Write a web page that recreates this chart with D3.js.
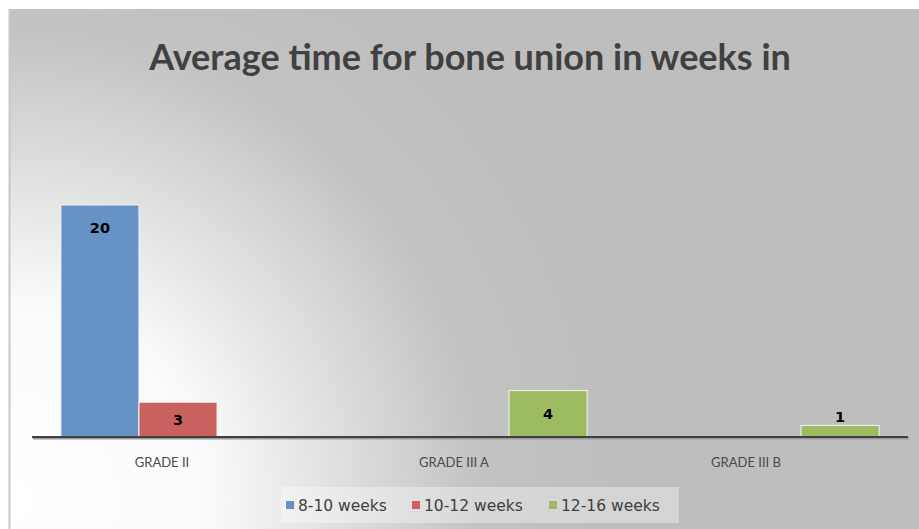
<!DOCTYPE html>
<html>
<head>
<meta charset="utf-8">
<script src="https://cdn.jsdelivr.net/npm/d3@7"></script>
<style>
  html, body { margin: 0; padding: 0; background: #fff; }
  svg { display: block; }
</style>
</head>
<body>
<svg id="chart" width="919" height="529"></svg>
<script>
// data
const categories = ['GRADE II', 'GRADE III A', 'GRADE III B']
const seriesNames = ['8-10 weeks', '10-12 weeks', '12-16 weeks']
const weeks8to10 = [20, 0, 0]
const weeks10to12 = [3, 0, 0]
const weeks12to16 = [0, 4, 1]
const seriesColors = ['#6792c5', '#c9625f', '#9dbb61']

const seriesValues = [weeks8to10, weeks10to12, weeks12to16]

const W = 919, H = 529
const svg = d3.select('#chart')

// background with radial light from lower left
const defs = svg.append('defs')
const grad = defs.append('radialGradient').attr('id', 'bg')
  .attr('gradientUnits', 'userSpaceOnUse')
  .attr('cx', 10).attr('cy', 500).attr('r', 600)
grad.append('stop').attr('offset', '0').attr('stop-color', '#ffffff')
grad.append('stop').attr('offset', '0.33').attr('stop-color', '#fafafa')
grad.append('stop').attr('offset', '0.78').attr('stop-color', '#c3c3c3')
grad.append('stop').attr('offset', '1').attr('stop-color', '#bebebe')

svg.append('rect').attr('x', 9).attr('y', 9).attr('width', W - 9).attr('height', H - 9)
  .attr('fill', 'url(#bg)')
svg.append('line').attr('x1', 9.5).attr('x2', 9.5).attr('y1', 9).attr('y2', H)
  .attr('stroke', '#c8c8c8').attr('stroke-width', 2)

// title
svg.append('text')
  .attr('x', 470).attr('y', 70)
  .attr('text-anchor', 'middle')
  .style('font-family', 'Lato, "Open Sans", sans-serif')
  .style('font-weight', 'bold')
  .style('font-size', '36px')
  .style('fill', '#404040')
  .text('Average time for bone union in weeks in')

// scales
const baseY = 437
const x0 = d3.scaleBand().domain(categories).range([32, 908])
const x1 = d3.scaleBand().domain(seriesNames).range([0, x0.bandwidth()]).paddingOuter(0.37)
const y = d3.scaleLinear().domain([0, 25]).range([baseY, baseY - 290])

const rows = []
seriesNames.forEach((s, si) => {
  categories.forEach((c, ci) => {
    rows.push({ cat: c, series: s, value: seriesValues[si][ci], color: seriesColors[si] })
  })
})
const shown = rows.filter(d => d.value > 0)

const plot = svg.append('g')
plot.selectAll('rect.bar').data(shown).enter().append('rect')
  .attr('class', 'bar')
  .attr('x', d => x0(d.cat) + x1(d.series))
  .attr('y', d => y(d.value))
  .attr('width', x1.bandwidth())
  .attr('height', d => y(0) - y(d.value))
  .attr('fill', d => d.color)
  .attr('stroke', '#f4f4f4')
  .attr('stroke-width', 1)

// data labels
plot.selectAll('text.lbl').data(shown).enter().append('text')
  .attr('class', 'lbl')
  .attr('x', d => x0(d.cat) + x1(d.series) + x1.bandwidth() / 2)
  .attr('y', d => {
    const h = y(0) - y(d.value)
    if (h < 20) return y(d.value) - 3
    return y(d.value) + Math.min(23, h / 2) + 5
  })
  .attr('text-anchor', 'middle')
  .style('font-family', '"DejaVu Sans", sans-serif')
  .style('font-weight', 'bold')
  .style('font-size', '14.5px')
  .style('fill', '#000')
  .text(d => d.value)

// axis baseline with a soft shadow
svg.append('line').attr('x1', 33).attr('x2', 909).attr('y1', baseY + 1.5).attr('y2', baseY + 1.5)
  .attr('stroke', '#9a9a9a').attr('stroke-width', 2)
svg.append('line').attr('x1', 32).attr('x2', 908).attr('y1', baseY).attr('y2', baseY)
  .attr('stroke', '#404040').attr('stroke-width', 2)

// category labels
svg.selectAll('text.cat').data(categories).enter().append('text')
  .attr('class', 'cat')
  .attr('x', d => x0(d) + x0.bandwidth() / 2 - 16)
  .attr('y', 467)
  .attr('text-anchor', 'middle')
  .style('font-family', '"Liberation Sans Narrow", Lato, sans-serif')
  .style('font-size', '13px')
  .style('fill', '#4a4a4a')
  .text(d => d)

// legend
const legend = svg.append('g')
legend.append('rect').attr('x', 281).attr('y', 487).attr('width', 398).attr('height', 36)
  .attr('fill', '#ffffff').attr('fill-opacity', 0.35)
const legendX = [286, 412, 549]
seriesNames.forEach((s, i) => {
  legend.append('rect').attr('x', legendX[i]).attr('y', 501).attr('width', 8).attr('height', 8)
    .attr('fill', seriesColors[i])
  legend.append('text').attr('x', legendX[i] + 12).attr('y', 511)
    .style('font-family', '"DejaVu Sans", sans-serif')
    .style('font-size', '15.5px')
    .style('fill', '#404040')
    .text(s)
})
</script>
</body>
</html>
